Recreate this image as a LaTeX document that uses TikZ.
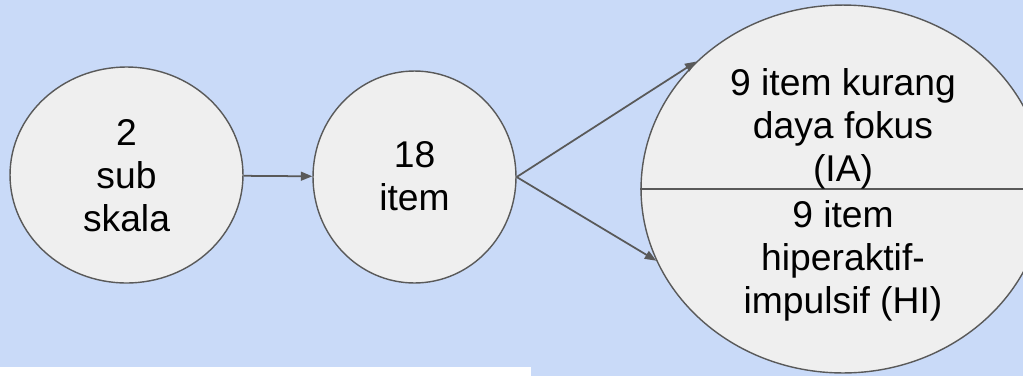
\documentclass[tikz,border=0pt]{standalone}
\usepackage{fontspec}
\setmainfont{Liberation Sans}
\usetikzlibrary{shapes.geometric,arrows.meta}
\definecolor{bgblue}{HTML}{C9DAF8}
\definecolor{ballgray}{HTML}{EFEFEF}
\definecolor{edgegray}{HTML}{595959}
\tikzset{
  ball/.style={ellipse, draw=edgegray, line width=0.8pt, fill=ballgray,
    inner sep=0pt, align=center},
  txt/.style={align=center, inner sep=0pt,
    font=\fontsize{21.2}{24.4}\selectfont},
}
\begin{document}
\begin{tikzpicture}[x=0.02cm,y=-0.02cm]
      \useasboundingbox (0,0) rectangle (1023,376);
      \clip (0,0) rectangle (1023,376);
      \fill[bgblue] (0,0) rectangle (1023,376);
      \fill[white] (0,367) rectangle (531,376);
      \draw
        (126.5,175) node[ball, minimum width=4.66cm, minimum height=4.32cm] (skala){}
        (414.5,177) node[ball, minimum width=4.06cm, minimum height=4.24cm] (item){}
        (843,189) node[ball, minimum width=8.08cm, minimum height=7.36cm] (split){};
      \draw[edgegray, line width=0.9pt] (split.west) to (split.east);
      \node[txt] (subs) at (126.5,176) {2\\sub\\skala};
      \node[txt] (total) at (414.5,176) {18\\item};
      \node[txt] (ia) at (843,129) {9 item kurang\\daya fokus\\(IA)};
      \node[txt] (hi) at (843,261) {9 item\\hiperaktif-\\impulsif (HI)};
      \begin{scope}[edgegray, line width=1pt, -{Triangle[length=6.5pt,width=5pt]}]
        \draw (skala) to (item);
        \draw (item.east) to (split.139);
        \draw (item.east) to (split.201);
      \end{scope}
    \end{tikzpicture}
\end{document}
